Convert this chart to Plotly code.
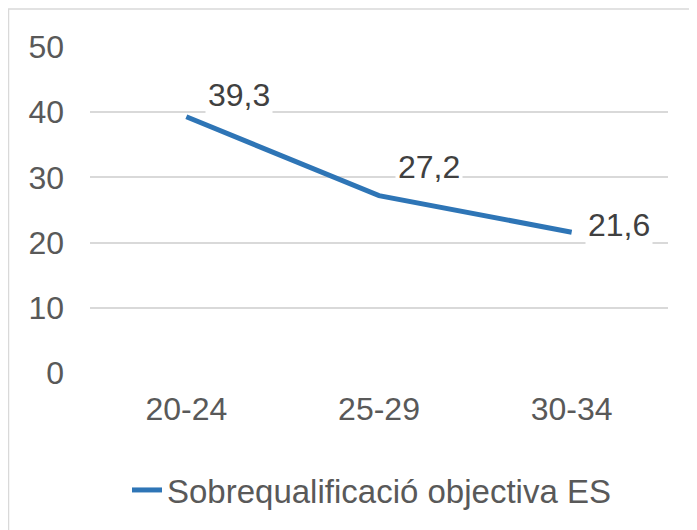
import plotly.graph_objects as go

categories = ["20-24", "25-29", "30-34"]
values = [39.3, 27.2, 21.6]
labels = ["39,3", "27,2", "21,6"]
series_name = "Sobrequalificació objectiva ES"
y_ticks = [0, 10, 20, 30, 40, 50]

OFF = 8  # page body margin
W, H = 697 - OFF, 530 - OFF
L, R, T, B = 90 - OFF, 29, 47 - OFF, 157
pw, ph = W - L - R, H - T - B

def px_x(p):  # p in figure pixels
    return (p - L) / pw

def px_y(p):
    return (H - B - p) / ph

FONT = "Liberation Sans, Arial, sans-serif"
TXT = "#595959"
LBL = "#404040"
BLUE = "#2E75B6"
FS = 32

fig = go.Figure()
fig.add_trace(go.Scatter(
    x=categories, y=values, mode="lines", name=series_name,
    line=dict(color=BLUE, width=5),
))

shifts = [(53, 22), (50, 29), (47, 7)]
for c, v, t, (dx, dy) in zip(categories, values, labels, shifts):
    fig.add_annotation(x=c, y=v, text=t, showarrow=False, xshift=dx, yshift=dy,
                       bgcolor="white", borderpad=2,
                       font=dict(family=FONT, size=FS, color=LBL))

fig.add_shape(type="rect", xref="paper", yref="paper",
              x0=px_x(0.5), x1=px_x(W + 10), y0=px_y(H + 10), y1=px_y(1),
              line=dict(color="#D9D9D9", width=1.5), layer="below")

fig.update_layout(
    width=W, height=H,
    margin=dict(l=L, r=R, t=T, b=B),
    paper_bgcolor="white", plot_bgcolor="white",
    font=dict(family=FONT, size=FS, color=TXT),
    showlegend=True,
    legend=dict(orientation="h", x=px_x(127 - OFF), xanchor="left",
                y=px_y(490 - OFF), yanchor="middle",
                font=dict(family=FONT, size=33, color=TXT)),
    xaxis=dict(type="category", range=[-0.5, 2.5], showgrid=False, showline=False,
               ticks="", ticklabelstandoff=14,
               tickfont=dict(family=FONT, size=FS, color=TXT)),
    yaxis=dict(range=[0, 50], tickvals=y_ticks, showgrid=True, gridcolor="#D9D9D9",
               gridwidth=2, zeroline=False, showline=False, ticks="",
               ticklabelstandoff=25,
               tickfont=dict(family=FONT, size=FS, color=TXT)),
)

fig.write_html("out.html")
